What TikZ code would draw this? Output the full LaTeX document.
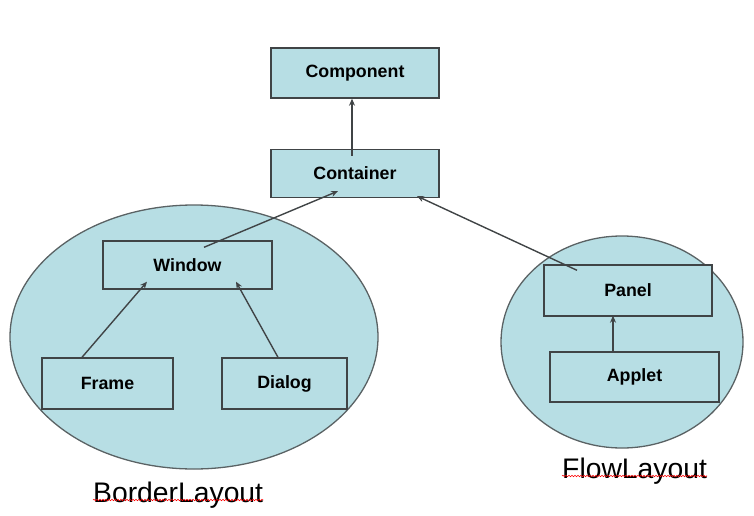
\documentclass[tikz,border=0pt]{standalone}
\usepackage{fontspec}
\setmainfont{Liberation Sans}
\usetikzlibrary{arrows.meta}
\usetikzlibrary{positioning}
\usetikzlibrary{shapes.geometric}
\usetikzlibrary{decorations.pathmorphing}
\definecolor{boxfill}{RGB}{183,222,228}
\definecolor{boxline}{RGB}{64,68,70}
\definecolor{ringline}{RGB}{90,98,100}

\begin{document}
\begin{tikzpicture}[
    x=1pt, y=-1pt,
    node distance=50pt,
    >={Stealth[length=7pt,width=6pt]},
    every node/.style={font=\fontsize{17.8}{20}\selectfont\bfseries},
    classbox/.style={rectangle, draw=boxline, fill=boxfill, line width=1.4pt, minimum width=168pt, minimum height=50pt, inner sep=0pt},
    layout/.style={ellipse, draw=ringline, fill=boxfill, line width=1.3pt, inner sep=0pt},
    layoutname/.style={anchor=base west, inner sep=0pt, font=\fontsize{28.3}{32}\selectfont},
    link/.style={->, draw=boxline, line width=1.4pt},
    spell/.style={draw=red, line width=0.6pt, decorate, decoration={snake, segment length=3pt, amplitude=0.7pt}}
]
\useasboundingbox (0,0) rectangle (754,516);

% Layout groups
\node[layout, minimum width=368pt, minimum height=264pt] (border) at (194,337) {};
\node[layout, minimum width=242pt, minimum height=212pt] (flow) at (622,342) {};

% Nodes
\node[classbox] (component) at (355,73) {Component};
\node[classbox, below=of component, minimum height=48pt] (container) {Container};
\node[classbox, minimum width=169pt, minimum height=48pt] (window) at (187.5,265) {Window};
\node[classbox, minimum width=131pt, minimum height=51pt] (frame) at (107.5,383.5) {Frame};
\node[classbox, minimum width=125pt, minimum height=51pt] (dialog) at (284.5,383.5) {Dialog};
\node[classbox, minimum height=51pt] (panel) at (628,290.5) {Panel};
\node[classbox, minimum width=169pt] (applet) at (634.5,377) {Applet};

% Labels
\node[layoutname] (bordername) at (93,502) {BorderLayout};
\node[layoutname] (flowname) at (562,478) {FlowLayout};
\draw[spell] ([yshift=2pt]bordername.base west) -- ([yshift=2pt]bordername.base east);
\draw[spell] ([yshift=2pt]flowname.base west) -- ([yshift=2pt]flowname.base east);

% Edges
\draw[link] ([xshift=-3pt,yshift=-7pt]container.north) -- ([xshift=-3pt]component.south);
\draw[link] ([xshift=16.5pt,yshift=-7pt]window.north) -- ([xshift=-17pt,yshift=7pt]container.south);
\draw[link] ([xshift=-51pt,yshift=-6pt]panel.north) -- ([xshift=62pt,yshift=2pt]container.south);
\draw[link] ([xshift=-25.5pt]frame.north) -- ([xshift=-40.5pt,yshift=8pt]window.south);
\draw[link] ([xshift=-6.5pt]dialog.north) -- ([xshift=48.5pt,yshift=8pt]window.south);
\draw[link] ([xshift=-21.5pt]applet.north) -- ([xshift=-15pt,yshift=1pt]panel.south);

\end{tikzpicture}
\end{document}
